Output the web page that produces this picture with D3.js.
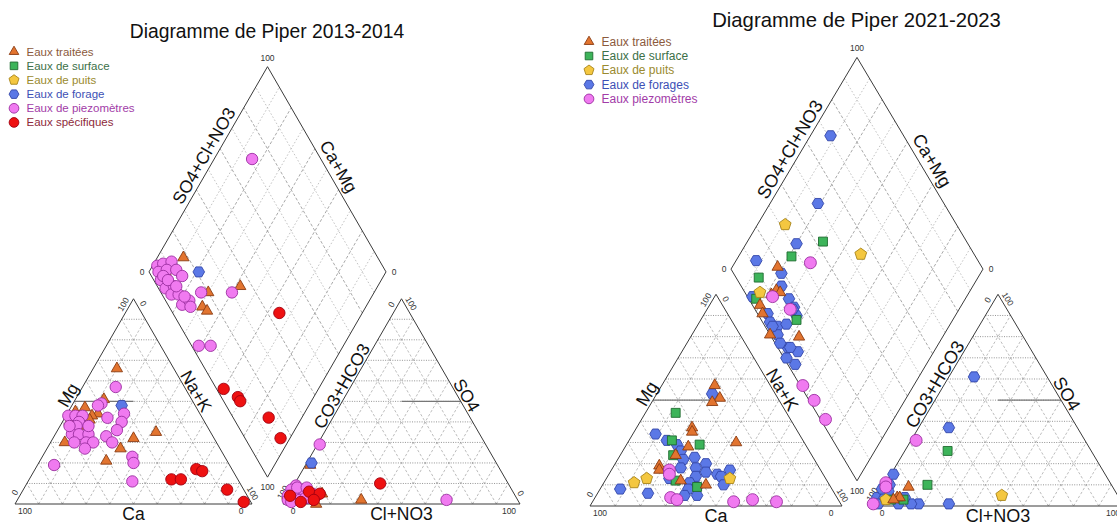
<!DOCTYPE html>
<html><head><meta charset="utf-8">
<script src="https://cdn.jsdelivr.net/npm/d3@7"></script>
<style>body{margin:0;background:#fff} svg{display:block} text{font-family:"Liberation Sans",Arial,sans-serif}</style>
</head><body><svg id="c" width="1117" height="524"></svg>
<script>
// ---------------- DATA ----------------
// cations: [Ca%, Mg%]  (Na+K = remainder)
// anions:  [Cl+NO3%, SO4%]  (CO3+HCO3 = remainder)
// diamond: [Ca+Mg%, SO4+Cl+NO3%]
const title13 = "Diagramme de Piper 2013-2014";
const title21 = "Diagramme de Piper 2021-2023";
const legend13 = ["Eaux traitées","Eaux de surface","Eaux de puits","Eaux de forage","Eaux de piezomètres","Eaux spécifiques"];
const legend21 = ["Eaux traitées","Eaux de surface","Eaux de puits","Eaux de forages","Eaux piezomètres"];
const tickLabels = ["0","100"];
const axisCation = ["Mg","Na+K","Ca"];
const axisAnion = ["CO3+HCO3","SO4","Cl+NO3"];
const axisDiamond = ["SO4+Cl+NO3","Ca+Mg"];

const cat13_traitees = [[24,66],[37,51],[47,47],[52,45],[43,44],[46,43],[48,41],[57,40],[53,38],[64,30],[34,32],[23,35],[42,27],[51,21]];
const cat13_forage = [[31,48]];
const cat13_piezo = [[29,57],[39,49],[41,48],[32,44],[35,40],[39,36],[40,42],[56,43],[53,43],[50,43],[53,40],[55,38],[59,34],[56,34],[52,34],[60,30],[55,30],[52,30],[57,27],[45,33],[44,30],[39,23],[40,20],[74,19],[45,11],[58,38],[50,38]];
const cat13_specif = [[15,17],[13,16],[28,12],[24,12],[7,7],[3,1]];

const an13_traitees = [[2,19],[32,2],[14,0],[14,5]];
const an13_forage = [[2,20]];
const an13_piezo = [[1,29],[68,2],[1,9],[0,7],[0,4],[3,4],[6,6],[10,5],[6,2],[1,2],[9,3],[12,4],[2,8],[8,3],[3,1],[6,8]];
const an13_specif = [[36,10],[8,6],[13,5],[1,4],[7,1],[12,2]];

const dia13_traitees = [[89,18],[93,7],[70,20],[58,35],[69,14],[66,15]];
const dia13_forage = [[79,21]];
const dia13_piezo = [[84,71],[98,5],[96,8],[93,12],[96,4],[93,8],[89,12],[85,13],[93,3],[93,5],[89,3],[86,7],[85,4],[82,7],[78,6],[76,10],[74,9],[73,17],[60,30],[61,3],[56,8],[90,6],[79,9],[85,8]];
const dia13_specif = [[35,45],[40,3],[32,7],[30,7],[14,15],[4,15]];

const cat21_traitees = [[22,57],[23,51],[27,49],[41,37],[42,35],[27,30],[47,28],[54,24],[63,19],[64,17],[49,10],[58,12]];
const cat21_surface = [[44,44],[52,31],[42,29],[55,24],[60,12],[53,9]];
const cat21_puits = [[77,11],[71,13],[38,13]];
const cat21_forages = [[25,53],[57,34],[54,31],[51,29],[51,26],[52,22],[47,23],[44,20],[49,18],[46,16],[42,15],[36,17],[41,14],[51,14],[55,11],[53,9],[57,8],[60,5],[55,5],[42,10],[84,8],[74,6],[62,13],[55,18]];
const cat21_piezo = [[60,17],[61,15],[66,4],[64,3],[42,2],[34,3],[25,2]];

const an21_traitees = [[10,9],[8,4],[9,4],[7,3]];
const an21_surface = [[17,26],[17,10],[6,3],[11,3]];
const an21_puits = [[49,5],[4,3]];
const an21_forages = [[10,61],[12,37],[30,1],[18,1],[10,1],[1,15],[2,10],[0,4],[2,1],[3,4],[15,1],[11,4],[3,7],[0,8]];
const an21_piezo = [[2,31],[0,11],[1,9],[0,1]];

const dia21_traitees = [[82,19],[77,13],[78,10],[75,14],[80,3],[77,2],[57,11],[69,0]];
const dia21_surface = [[70,43],[79,27],[87,9],[83,3],[62,14]];
const dia21_puits = [[89,32],[52,55],[83,6]];
const dia21_forages = [[92,71],[81,50],[80,32],[92,12],[79,19],[76,16],[85,2],[70,16],[66,16],[63,15],[75,4],[72,3],[68,5],[65,9],[66,3],[59,4],[54,7],[57,1],[52,3],[63,2],[58,5],[70,3],[66,15]];
const dia21_piezo = [[70,33],[67,14],[77,10],[44,1],[36,2],[27,2]];

// ---------------- STYLES ----------------
const styles = {
  traitees:{shape:"tri", fill:"#E2742F", stroke:"#8A3B12", text:"#8B5A3C"},
  surface:{shape:"sq", fill:"#3DB45A", stroke:"#1F6B30", text:"#3C7048"},
  puits:{shape:"pent", fill:"#F4C740", stroke:"#A8841A", text:"#9A8A2E"},
  forage:{shape:"hex", fill:"#5B78E6", stroke:"#3346A8", text:"#3D50B5"},
  piezo:{shape:"circ", fill:"#F07AF0", stroke:"#9B2FA0", text:"#A23CA8"},
  specif:{shape:"circ", fill:"#EE1111", stroke:"#A00010", text:"#8E2A3A"}
};
const svg = d3.select("#c");
const lineGen = d3.line().curve(d3.curveLinearClosed);
function poly(n, r, a0){ return lineGen(d3.range(n).map(i=>{const a=a0+i*2*Math.PI/n; return [r*Math.cos(a), r*Math.sin(a)];})); }
function shapePath(shape, k){
  k = k||1;
  if(shape==="tri") return poly(3, 6.5*k, -Math.PI/2);
  if(shape==="sq") return d3.symbol(d3.symbolSquare, 80*k*k)();
  if(shape==="pent") return poly(5, 6.2*k, -Math.PI/2);
  if(shape==="hex") return poly(6, 5.8*k, 0);
  return d3.symbol(d3.symbolCircle, Math.PI*5.7*5.7*k*k)();
}

// ---------------- PIPER ----------------
function drawPiper(cfg){
  const g = svg.append("g");
  const sx = d3.scaleLinear().domain([0,1]).range([cfg.x0, cfg.x0+cfg.s]);
  const sy = d3.scaleLinear().domain([0,1]).range([cfg.base, cfg.base - cfg.s*cfg.sy]);
  const P = p => [sx(p[0]), sy(p[1])];
  const r3 = Math.sqrt(3)/2, gr = cfg.gap/cfg.s;
  const cBL=[0,0], cBR=[1,0], cT=[0.5,r3];
  const aBL=[1+gr,0], aBR=[2+gr,0], aT=[1.5+gr,r3];
  const dB=[1+gr/2, r3*gr], dL=[dB[0]-0.5, dB[1]+r3], dR=[dB[0]+0.5, dB[1]+r3], dT=[dB[0], dB[1]+2*r3];
  const tern=(BL,BR,T)=>(a,b,c)=>[a*BL[0]+b*BR[0]+c*T[0], a*BL[1]+b*BR[1]+c*T[1]];
  const catT = tern(cBL,cBR,cT), anT = tern(aBL,aBR,aT);
  const diaP = (u,v)=>[dB[0]+u*(dL[0]-dB[0])+v*(dR[0]-dB[0]), dB[1]+u*(dL[1]-dB[1])+v*(dR[1]-dB[1])];

  const grid = g.append("g");
  function seg(p,q,stroke,dash,w){
    const A=P(p), B=P(q);
    grid.append("line").attr("x1",A[0]).attr("y1",A[1]).attr("x2",B[0]).attr("y2",B[1])
      .attr("stroke",stroke).attr("stroke-width",w||0.8).attr("stroke-dasharray",dash||null);
  }
  const hz="#7a7a7a", hzD="1,1.4", dg="#a0a0a0", dgD="2.6,2";
  for(let i=1;i<10;i++){
    const f=i/10;
    [catT, anT].forEach(T=>{
      seg(T(1-f,0,f), T(0,1-f,f), hz, hzD, 0.8);
      seg(T(f,1-f,0), T(f,0,1-f), dg, dgD, 0.7);
      seg(T(1-f,f,0), T(0,f,1-f), dg, dgD, 0.7);
    });
    const dc = i%2===0 ? "#8c8c8c" : "#b0b0b0";
    const dd = i%2===0 ? "3,2" : "1.6,2";
    seg(diaP(f,0), diaP(f,1), dc, dd, 0.75);
    seg(diaP(0,f), diaP(1,f), dc, dd, 0.75);
  }
  // 50% solid divisions
  seg(catT(0.5,0,0.5), catT(0.25,0.25,0.5), "#777", null, 1.3);
  seg(anT(0.25,0.25,0.5), anT(0,0.5,0.5), "#777", null, 1.3);
  // outlines
  const outl = g.append("g").attr("fill","none").attr("stroke","#3a3a3a").attr("stroke-width",1);
  [[cBL,cBR,cT],[aBL,aBR,aT],[dB,dR,dT,dL]].forEach(pts=>{
    outl.append("path").attr("d", lineGen(pts.map(P)));
  });

  // text helpers
  function edgeText(pa, pb, frac, k, d, txt, size, fill, horiz){
    const A=P(pa), B=P(pb);
    const dx=B[0]-A[0], dy=B[1]-A[1], L=Math.hypot(dx,dy);
    const ux=dx/L, uy=dy/L, nx=uy, ny=-ux;
    const x=A[0]+ux*(L*frac+k)+nx*d, y=A[1]+uy*(L*frac+k)+ny*d;
    const ang = horiz?0:Math.atan2(dy,dx)*180/Math.PI;
    g.append("text").attr("x",x).attr("y",y).attr("transform",`rotate(${ang},${x},${y})`)
      .attr("text-anchor","middle").attr("dominant-baseline","central")
      .attr("font-size",size).attr("fill",fill).text(txt);
  }
  const fs=cfg.fs, ts=8.5, tc="#333", lc="#111";
  // axis names
  edgeText(cBL,cT,0.51,0,8.5,axisCation[0],fs,lc);
  edgeText(cT,cBR,0.47,0,8,axisCation[1],fs,lc);
  edgeText(cBL,cBR,0.5,0,-9.5,axisCation[2],fs,lc);
  edgeText(aBL,aT,0.555,0,8,axisAnion[0],fs,lc);
  edgeText(aT,aBR,0.49,0,8,axisAnion[1],fs,lc);
  edgeText(aBL,aBR,0.5,0,-9.5,axisAnion[2],fs,lc);
  edgeText(dL,dT,0.54,0,10.5,axisDiamond[0],fs,lc);
  edgeText(dT,dR,0.515,0,11.5,axisDiamond[1],fs,lc);
  // tick labels
  const [t0,t100]=tickLabels;
  edgeText(cBL,cT,0,10,6,t0,ts,tc);  edgeText(cBL,cT,1,-10,6,t100,ts,tc);
  edgeText(cT,cBR,0,9,6,t0,ts,tc);   edgeText(cT,cBR,1,-9,6,t100,ts,tc);
  edgeText(cBL,cBR,0,10,-7,t100,ts,tc); edgeText(cBL,cBR,1,-11,-7,t0,ts,tc);
  edgeText(aBL,aT,0,10,6,t100,ts,tc); edgeText(aBL,aT,1,-10,6,t0,ts,tc);
  edgeText(aT,aBR,0,9,6,t100,ts,tc);  edgeText(aT,aBR,1,-9,6,t0,ts,tc);
  edgeText(aBL,aBR,0,10,-7,t0,ts,tc); edgeText(aBL,aBR,1,-11,-7,t100,ts,tc);
  edgeText(dL,dR,0,-7,0,t0,ts,tc,true); edgeText(dL,dR,1,8,0,t0,ts,tc,true);
  edgeText(dB,dT,1,9,0,t100,ts,tc,true); edgeText(dB,dT,0,-10,0,t100,ts,tc,true);

  // title
  g.append("text").attr("x",cfg.titleX).attr("y",cfg.titleY).attr("text-anchor","middle")
    .attr("dominant-baseline","central").attr("font-size",cfg.titleSize).attr("fill","#111").text(cfg.title);

  // points
  const pg = g.append("g");
  cfg.series.forEach(sr=>{
    const st = styles[sr.key];
    const pts = [];
    (sr.cat||[]).forEach(d=>pts.push(catT(d[0]/100,(100-d[0]-d[1])/100,d[1]/100)));
    (sr.an||[]).forEach(d=>pts.push(anT((100-d[0]-d[1])/100,d[0]/100,d[1]/100)));
    (sr.dia||[]).forEach(d=>pts.push(diaP(d[0]/100,d[1]/100)));
    pg.selectAll(null).data(pts).enter().append("path")
      .attr("d", shapePath(st.shape, sr.k))
      .attr("transform", p=>{const q=P(p); return `translate(${q[0]},${q[1]})`;})
      .attr("fill", st.fill).attr("stroke", st.stroke).attr("stroke-width",0.9);
  });

  // legend
  const lg = g.append("g");
  cfg.legend.forEach((name,i)=>{
    const st = styles[cfg.legendKeys[i]];
    const y = cfg.legY + i*cfg.legStep;
    lg.append("path").attr("d", shapePath(st.shape, 0.85)).attr("transform",`translate(${cfg.legX},${y})`)
      .attr("fill",st.fill).attr("stroke",st.stroke).attr("stroke-width",0.9);
    lg.append("text").attr("x",cfg.legX+12.5).attr("y",y).attr("dominant-baseline","central")
      .attr("font-size",cfg.legSize).attr("fill",st.text).text(name);
  });
}

drawPiper({x0:15, s:237, gap:31, base:504, sy:1, fs:17.5,
  title:title13, titleX:267, titleY:31.5, titleSize:19.3,
  legend:legend13, legendKeys:["traitees","surface","puits","forage","piezo","specif"],
  legX:14, legY:51.7, legStep:14.15, legSize:11.5,
  series:[
    {key:"traitees", cat:cat13_traitees, an:an13_traitees, dia:dia13_traitees},
    {key:"forage", cat:cat13_forage, an:an13_forage, dia:dia13_forage},
    {key:"piezo", cat:cat13_piezo, an:an13_piezo, dia:dia13_piezo},
    {key:"specif", cat:cat13_specif, an:an13_specif, dia:dia13_specif}
  ]});

drawPiper({x0:590, s:252, gap:30, base:506, sy:0.97, fs:18,
  title:title21, titleX:856.5, titleY:20, titleSize:20.3,
  legend:legend21, legendKeys:["traitees","surface","puits","forage","piezo"],
  legX:589, legY:41.7, legStep:14.3, legSize:12,
  series:[
    {key:"forage", cat:cat21_forages, an:an21_forages, dia:dia21_forages},
    {key:"surface", cat:cat21_surface, an:an21_surface, dia:dia21_surface},
    {key:"puits", cat:cat21_puits, an:an21_puits, dia:dia21_puits},
    {key:"traitees", cat:cat21_traitees, an:an21_traitees, dia:dia21_traitees},
    {key:"piezo", cat:cat21_piezo, an:an21_piezo, dia:dia21_piezo, k:1.05}
  ]});
</script></body></html>
